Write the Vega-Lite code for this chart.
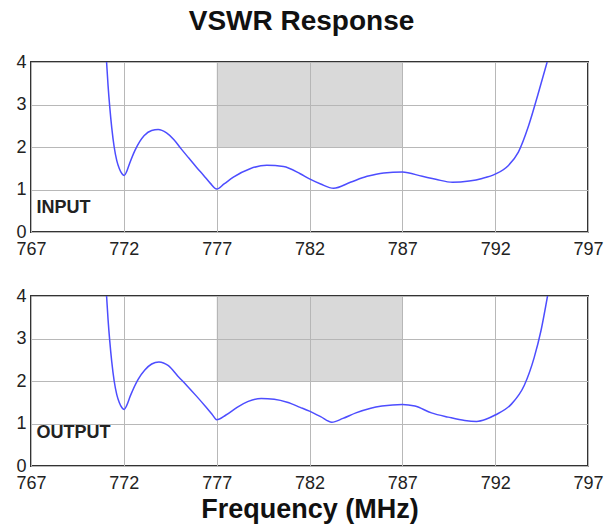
{
  "$schema": "https://vega.github.io/schema/vega-lite/v6.json",
  "padding": {"left": 14, "top": 8, "right": 5, "bottom": 5},
  "config": {
    "font": "Liberation Sans",
    "view": {"stroke": "#333", "strokeWidth": 2},
    "axis": {
      "labelFont": "Liberation Sans",
      "labelFontSize": 18,
      "labelColor": "#222",
      "ticks": false,
      "domain": false,
      "gridColor": "#b8b8b8",
      "gridWidth": 1,
      "gridOpacity": 1,
      "labelFlush": false,
      "labelBound": false,
      "labelOverlap": false
    },
    "axisX": {"labelPadding": 8},
    "axisY": {"labelPadding": 5},
    "title": {"font": "Liberation Sans"}
  },
  "title": {"text": "VSWR Response", "fontSize": 28, "fontWeight": "bold", "color": "#111", "anchor": "middle", "dx": -8, "offset": 16},
  "spacing": 27,
  "datasets": {
    "band": [{"f0": 777, "f1": 787, "v0": 2, "v1": 4}],
    "input": [
      {"f": 771.07, "v": 4.0}, {"f": 771.15, "v": 3.45}, {"f": 771.24, "v": 2.95}, {"f": 771.35, "v": 2.45},
      {"f": 771.48, "v": 2.0}, {"f": 771.62, "v": 1.68}, {"f": 771.76, "v": 1.49}, {"f": 771.9, "v": 1.37},
      {"f": 772.02, "v": 1.33}, {"f": 772.15, "v": 1.42}, {"f": 772.3, "v": 1.6}, {"f": 772.6, "v": 1.92},
      {"f": 773.1, "v": 2.27}, {"f": 773.5, "v": 2.39}, {"f": 773.85, "v": 2.41}, {"f": 774.3, "v": 2.33},
      {"f": 774.7, "v": 2.17}, {"f": 775.1, "v": 1.95}, {"f": 775.5, "v": 1.74}, {"f": 775.9, "v": 1.53},
      {"f": 776.3, "v": 1.33}, {"f": 776.65, "v": 1.15}, {"f": 777.0, "v": 1.01},
      {"f": 777.4, "v": 1.13}, {"f": 777.9, "v": 1.29}, {"f": 778.8, "v": 1.49}, {"f": 779.7, "v": 1.57},
      {"f": 780.6, "v": 1.54}, {"f": 781.5, "v": 1.37}, {"f": 782.0, "v": 1.25}, {"f": 782.6, "v": 1.13},
      {"f": 783.3, "v": 1.03}, {"f": 784.2, "v": 1.17}, {"f": 785.1, "v": 1.31}, {"f": 786.0, "v": 1.39},
      {"f": 787.0, "v": 1.41}, {"f": 788.07, "v": 1.31}, {"f": 788.8, "v": 1.24}, {"f": 789.7, "v": 1.17},
      {"f": 790.6, "v": 1.2}, {"f": 791.3, "v": 1.26}, {"f": 792.0, "v": 1.36}, {"f": 792.7, "v": 1.56},
      {"f": 793.25, "v": 1.88}, {"f": 793.8, "v": 2.5}, {"f": 794.3, "v": 3.23}, {"f": 794.8, "v": 4.0}
    ],
    "output": [
      {"f": 771.07, "v": 4.0}, {"f": 771.15, "v": 3.45}, {"f": 771.24, "v": 2.95}, {"f": 771.35, "v": 2.45},
      {"f": 771.48, "v": 2.0}, {"f": 771.62, "v": 1.68}, {"f": 771.76, "v": 1.49}, {"f": 771.9, "v": 1.37},
      {"f": 772.02, "v": 1.33}, {"f": 772.15, "v": 1.42}, {"f": 772.35, "v": 1.65}, {"f": 772.77, "v": 2.04},
      {"f": 773.13, "v": 2.26}, {"f": 773.5, "v": 2.4}, {"f": 773.89, "v": 2.45}, {"f": 774.4, "v": 2.36},
      {"f": 774.9, "v": 2.12}, {"f": 775.4, "v": 1.89}, {"f": 775.9, "v": 1.65}, {"f": 776.4, "v": 1.4},
      {"f": 776.75, "v": 1.22}, {"f": 777.0, "v": 1.09},
      {"f": 777.5, "v": 1.2}, {"f": 778.1, "v": 1.38}, {"f": 778.7, "v": 1.52}, {"f": 779.4, "v": 1.59},
      {"f": 780.1, "v": 1.57}, {"f": 780.8, "v": 1.5}, {"f": 781.5, "v": 1.38}, {"f": 782.0, "v": 1.29},
      {"f": 782.6, "v": 1.16}, {"f": 783.2, "v": 1.03}, {"f": 783.8, "v": 1.12}, {"f": 784.5, "v": 1.25},
      {"f": 785.3, "v": 1.36}, {"f": 785.9, "v": 1.41}, {"f": 787.0, "v": 1.45}, {"f": 787.68, "v": 1.41},
      {"f": 788.57, "v": 1.25}, {"f": 789.47, "v": 1.15}, {"f": 790.36, "v": 1.07}, {"f": 791.0, "v": 1.05},
      {"f": 791.5, "v": 1.1}, {"f": 792.0, "v": 1.2}, {"f": 792.86, "v": 1.45}, {"f": 793.57, "v": 1.9},
      {"f": 794.1, "v": 2.55}, {"f": 794.46, "v": 3.17}, {"f": 794.82, "v": 4.0}
    ]
  },
  "vconcat": [
    {
      "width": 557,
      "height": 170,
      "layer": [
        {
          "data": {"name": "band"},
          "mark": {"type": "rect", "fill": "#b3b3b3", "opacity": 0.5},
          "encoding": {
            "x": {"field": "f0", "type": "quantitative", "scale": {"domain": [767, 797], "nice": false, "zero": false}, "axis": {"values": [767, 772, 777, 782, 787, 792, 797], "title": null}},
            "x2": {"field": "f1"},
            "y": {"field": "v0", "type": "quantitative", "scale": {"domain": [0, 4], "nice": false}, "axis": {"values": [0, 1, 2, 3, 4], "title": null}},
            "y2": {"field": "v1"}
          }
        },
        {
          "data": {"name": "input"},
          "mark": {"type": "line", "color": "#4d4dff", "strokeWidth": 1.5, "interpolate": "monotone", "clip": true},
          "encoding": {
            "x": {"field": "f", "type": "quantitative"},
            "y": {"field": "v", "type": "quantitative"}
          }
        },
        {
          "data": {"values": [{"label": "INPUT", "f": 767.3, "v": 0.45}]},
          "mark": {"type": "text", "align": "left", "baseline": "alphabetic", "fontSize": 18, "fontWeight": "bold", "color": "#222"},
          "encoding": {
            "x": {"field": "f", "type": "quantitative"},
            "y": {"field": "v", "type": "quantitative"},
            "text": {"field": "label"}
          }
        }
      ]
    },
    {
      "width": 557,
      "height": 170,
      "layer": [
        {
          "data": {"name": "band"},
          "mark": {"type": "rect", "fill": "#b3b3b3", "opacity": 0.5},
          "encoding": {
            "x": {"field": "f0", "type": "quantitative", "scale": {"domain": [767, 797], "nice": false, "zero": false}, "axis": {"values": [767, 772, 777, 782, 787, 792, 797], "title": "Frequency (MHz)", "titleFontSize": 27, "titleFontWeight": "bold", "titleColor": "#111", "titlePadding": 4}},
            "x2": {"field": "f1"},
            "y": {"field": "v0", "type": "quantitative", "scale": {"domain": [0, 4], "nice": false}, "axis": {"values": [0, 1, 2, 3, 4], "title": null}},
            "y2": {"field": "v1"}
          }
        },
        {
          "data": {"name": "output"},
          "mark": {"type": "line", "color": "#4d4dff", "strokeWidth": 1.5, "interpolate": "monotone", "clip": true},
          "encoding": {
            "x": {"field": "f", "type": "quantitative"},
            "y": {"field": "v", "type": "quantitative"}
          }
        },
        {
          "data": {"values": [{"label": "OUTPUT", "f": 767.3, "v": 0.65}]},
          "mark": {"type": "text", "align": "left", "baseline": "alphabetic", "fontSize": 18, "fontWeight": "bold", "color": "#222"},
          "encoding": {
            "x": {"field": "f", "type": "quantitative"},
            "y": {"field": "v", "type": "quantitative"},
            "text": {"field": "label"}
          }
        }
      ]
    }
  ]
}
